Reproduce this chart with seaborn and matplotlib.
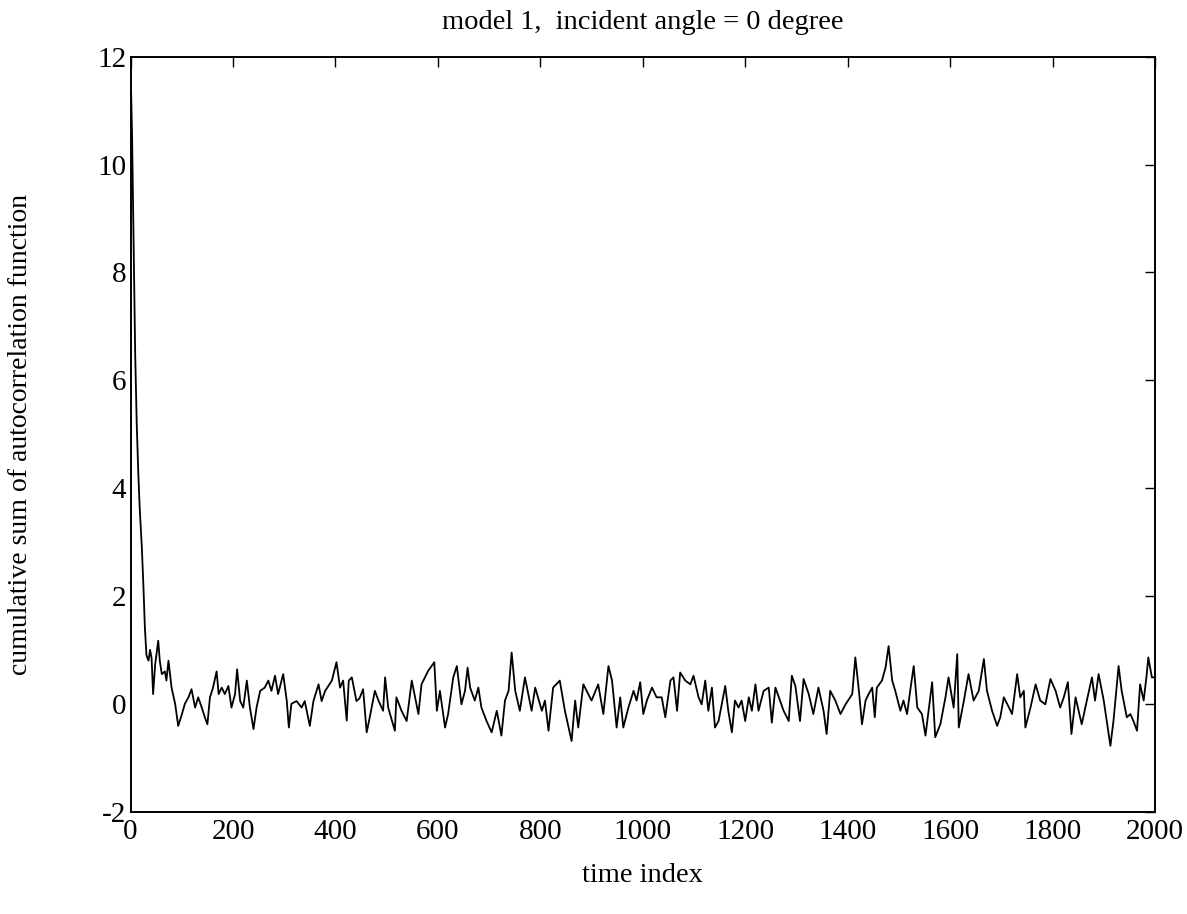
import matplotlib
matplotlib.use("Agg")
import matplotlib.pyplot as plt
import seaborn as sns
import pandas as pd

time_index = [0, 3, 6, 9, 12, 15, 18, 22, 25, 28, 31, 35, 38, 41, 44, 48, 54, 57, 61, 67, 70, 74, 77, 80,
              87, 93, 100, 106, 113, 119, 126, 132, 139, 145, 150, 155, 161, 168, 172, 178, 184, 191,
              197, 204, 208, 214, 220, 227, 233, 240, 246, 253, 262, 269, 275, 282, 288, 298, 305,
              309, 314, 324, 334, 340, 350, 357, 367, 373, 380, 393, 402, 409, 415, 422, 426, 432,
              441, 447,
              454, 461, 467, 477, 484, 493, 497, 503, 516, 519, 529, 539, 549, 562, 568, 581, 593,
              598, 604, 614, 620, 630, 637, 646, 653, 658, 663, 672, 679, 685, 695, 705, 715, 724,
              731, 738, 744, 751, 760, 770, 783, 790, 803, 809, 816, 825, 838, 848, 861, 868, 874,
              884, 900, 913,
              923, 933, 940, 949, 956, 962, 972, 982, 988, 995, 1001, 1008, 1018, 1027, 1037, 1044,
              1054, 1060, 1067, 1073, 1083, 1093, 1099, 1109, 1115, 1122, 1128, 1135, 1141, 1148,
              1161, 1167, 1174, 1180, 1187, 1193, 1200, 1207, 1213, 1220, 1226, 1236, 1246, 1252,
              1259, 1268, 1275, 1285, 1291, 1298, 1307, 1314, 1324, 1333, 1343, 1353, 1359, 1366,
              1376,
              1386, 1396, 1409, 1415, 1422, 1428, 1435, 1441, 1448, 1453, 1457, 1467, 1474, 1480,
              1487, 1493, 1503, 1509, 1516, 1523, 1529, 1536, 1545, 1552, 1558, 1565, 1571, 1581,
              1591, 1597, 1607, 1614, 1617, 1627, 1636, 1646, 1656, 1666, 1672, 1682, 1692, 1698,
              1705, 1715, 1721, 1731, 1737, 1744, 1747, 1757, 1767, 1776, 1786, 1796, 1806, 1815,
              1822, 1830, 1837, 1845, 1857, 1867, 1877, 1883, 1890, 1900, 1913, 1919, 1929, 1935,
              1945, 1952, 1958, 1965, 1971, 1978, 1984, 1987, 1994, 1999]

cumsum_acf = [11.8, 10.5, 8.5, 6.5, 5.2, 4.3, 3.6, 2.9, 2.2, 1.4, 0.9, 0.8, 1.0, 0.85, 0.18, 0.73, 1.17, 0.8,
              0.55, 0.6, 0.43, 0.8, 0.55, 0.3,
              0.0, -0.41, -0.2, 0.0, 0.12, 0.27, -0.07, 0.12, -0.07, -0.25, -0.38, 0.12, 0.3, 0.6,
              0.18, 0.3, 0.18, 0.33, -0.07, 0.18, 0.64, 0.05, -0.07, 0.43, -0.07, -0.47, -0.07,
              0.24, 0.3, 0.43, 0.24, 0.52, 0.18, 0.55, 0.05, -0.44, 0.0, 0.05, -0.07, 0.05, -0.41,
              0.05, 0.36, 0.05, 0.24, 0.43, 0.77, 0.3, 0.43, -0.31, 0.43, 0.49, 0.05, 0.1,
              0.27, -0.53, -0.25, 0.24, 0.06, -0.13, 0.49, -0.07, -0.5, 0.12, -0.13, -0.32, 0.43,
              -0.19, 0.36, 0.61, 0.77, -0.13, 0.24, -0.44, -0.19, 0.49, 0.7, -0.01, 0.24, 0.67,
              0.3, 0.06, 0.3, -0.07, -0.32, -0.53, -0.13, -0.59, 0.06, 0.24, 0.95, 0.24, -0.13,
              0.49, -0.13, 0.3, -0.13, 0.06, -0.5, 0.3, 0.43, -0.13, -0.69, 0.06, -0.44, 0.36,
              0.06, 0.36,
              -0.19, 0.7, 0.43, -0.44, 0.12, -0.44, -0.07, 0.24, 0.06, 0.4, -0.19, 0.06, 0.3, 0.12,
              0.12, -0.25, 0.43, 0.49, -0.13, 0.58, 0.43, 0.36, 0.52, 0.12, -0.01, 0.43, -0.13,
              0.3, -0.44, -0.32, 0.33, -0.13, -0.53, 0.06, -0.07, 0.06, -0.32, 0.12, -0.13, 0.36,
              -0.13, 0.24, 0.3, -0.35, 0.3, 0.06, -0.13, -0.32, 0.52, 0.33, -0.32, 0.46, 0.18,
              -0.19, 0.3, -0.13, -0.56, 0.24, 0.06,
              -0.19, -0.01, 0.18, 0.86, 0.24, -0.38, 0.06, 0.18, 0.3, -0.25, 0.3, 0.43, 0.67,
              1.07, 0.43, 0.24, -0.13, 0.06, -0.19, 0.3, 0.7, -0.07, -0.19, -0.59, -0.13, 0.4,
              -0.62, -0.38, 0.12, 0.49, -0.07, 0.92, -0.44, 0.06, 0.55, 0.06, 0.24, 0.83, 0.24,
              -0.13, -0.41, -0.25, 0.12, -0.07, -0.19, 0.55, 0.12, 0.24, -0.44, -0.07, 0.36, 0.06,
              -0.01, 0.46, 0.24, -0.07, 0.12, 0.4, -0.56, 0.12, -0.38, 0.06, 0.49, 0.06, 0.55,
              0.06, -0.78, -0.32, 0.7, 0.24, -0.25, -0.19, -0.32, -0.5, 0.36, 0.06, 0.55, 0.86,
              0.49, 0.49]

x_ticks = [0, 200, 400, 600, 800, 1000, 1200, 1400, 1600, 1800, 2000]
y_ticks = [-2, 0, 2, 4, 6, 8, 10, 12]

df = pd.DataFrame({"time index": time_index, "value": cumsum_acf})

sns.set_theme(style="white")
plt.rcParams["font.family"] = ["Liberation Serif", "DejaVu Serif"]
plt.rcParams["axes.edgecolor"] = "black"
plt.rcParams["axes.linewidth"] = 1.4

fig = plt.figure(figsize=(11.87, 9.14), dpi=100)
ax = fig.add_axes([0.110, 0.112, 0.863, 0.826])

sns.lineplot(data=df, x="time index", y="value", ax=ax, color="black", linewidth=1.3,
             estimator=None, sort=False)

ax.set_xlim(0, 2000)
ax.set_ylim(-2, 12)
ax.set_xticks(x_ticks)
ax.set_yticks(y_ticks)
ax.set_xticklabels([str(t) for t in x_ticks])
ax.set_yticklabels([str(t) for t in y_ticks])
ax.tick_params(axis="both", direction="in", length=7, width=1.0, labelsize=21, colors="black",
               top=True, right=True, pad=5)
ax.tick_params(axis="y", pad=3)

ax.set_title("model 1,  incident angle = 0 degree", fontsize=20.5, pad=20, color="black")
ax.set_xlabel("time index", fontsize=20.5, color="black")
ax.set_ylabel("cumulative sum of autocorrelation function", fontsize=20, color="black")
ax.xaxis.set_label_coords(0.5, -0.068)
ax.yaxis.set_label_coords(-0.095, 0.5)

for s in ax.spines.values():
    s.set_visible(True)
    s.set_color("black")

fig.savefig("out.png", dpi=100, facecolor="white")
